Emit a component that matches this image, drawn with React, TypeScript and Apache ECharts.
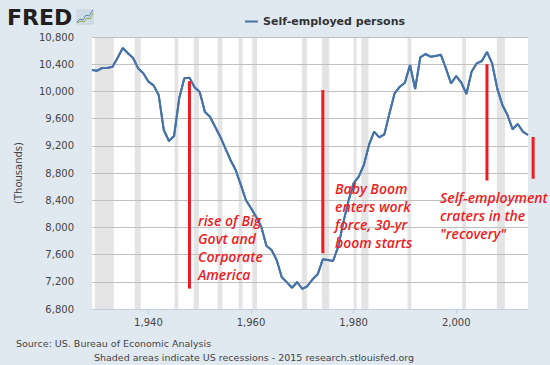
import React, { useEffect, useRef } from "react";
import * as echarts from "echarts";

const firstYear = 1929;
const selfEmployed = [
  10315, 10305, 10344, 10344, 10363, 10496, 10638, 10560, 10491, 10339,
  10266, 10143, 10089, 9947, 9432, 9270, 9344, 9898, 10193, 10202,
  10060, 9991, 9702, 9628, 9481, 9334, 9163, 8991, 8844, 8630,
  8403, 8281, 8158, 8010, 7731, 7668, 7521, 7266, 7192, 7113,
  7197, 7094, 7138, 7237, 7310, 7531, 7520, 7506, 7716, 8070,
  8390, 8648, 8746, 8918, 9212, 9408, 9325, 9369, 9678, 9972,
  10069, 10128, 10388, 10035, 10501, 10550, 10510, 10520, 10540, 10339,
  10119, 10226, 10128, 9962, 10290, 10413, 10447, 10580, 10413, 10045,
  9800, 9653, 9443, 9521, 9408, 9359,
];
const recessions: [string, string][] = [
  ["1929-08", "1933-03"], ["1937-05", "1938-06"], ["1945-02", "1945-10"],
  ["1948-11", "1949-10"], ["1953-07", "1954-05"], ["1957-08", "1958-04"],
  ["1960-04", "1961-02"], ["1969-12", "1970-11"], ["1973-11", "1975-03"],
  ["1980-01", "1980-07"], ["1981-07", "1982-11"], ["1990-07", "1991-03"],
  ["2001-03", "2001-11"], ["2007-12", "2009-06"],
];
// [year, top value, bottom value]
const redBars = [
  [1948, 10150, 7100],
  [1974, 10020, 7620],
  [2006, 10400, 8690],
  [2015, 9330, 8715],
];
const xTickYears = [1940, 1960, 1980, 2000];
const seriesName = "Self-employed persons";
const notes = [
  "rise of Big\nGovt and\nCorporate\nAmerica",
  "Baby Boom\nenters work\nforce, 30-yr\nboom starts",
  "Self-employment\ncraters in the\n\"recovery\"",
];

const toYear = (s: string, end: boolean) => {
  const [y, m] = s.split("-").map(Number);
  return y + (m - (end ? 0 : 1)) / 12;
};

const RED = "#ed1c24";
const FONT = "DejaVu Sans";

export default function App() {
  const ref = useRef<HTMLDivElement>(null);
  useEffect(() => {
    document.body.style.margin = "0";
    if (!ref.current) return;
    const chart = echarts.init(ref.current, null, { renderer: "svg" });
    const noteStyle = {
      fill: RED,
      fontFamily: "Open Sans",
      fontStyle: "italic",
      fontWeight: 600,
      fontSize: 14,
      lineHeight: 18,
    };
    chart.setOption({
      animation: false,
      backgroundColor: "#e1e9f0",
      grid: { left: 92, right: 22, top: 37, bottom: 56, show: true, backgroundColor: "#ffffff", borderWidth: 0 },
      legend: {
        data: [seriesName],
        left: 240,
        top: 11,
        icon: "rect",
        itemWidth: 13,
        itemHeight: 2,
        itemGap: 5,
        textStyle: { fontFamily: FONT, fontWeight: "bold", fontSize: 11, color: "#333" },
      },
      xAxis: {
        type: "value",
        z: 4,
        min: firstYear,
        max: firstYear + selfEmployed.length - 1,
        splitLine: { show: false },
        axisLine: { show: true, lineStyle: { color: "#c0d0e0" } },
        axisTick: { show: true, length: 5, lineStyle: { color: "#c0d0e0" }, customValues: xTickYears },
        axisLabel: { customValues: xTickYears, color: "#444", fontFamily: FONT, fontSize: 10, margin: 8 },
      },
      yAxis: {
        type: "value",
        z: 4,
        min: 6800,
        max: 10800,
        interval: 400,
        axisLine: { show: false },
        axisTick: { show: false },
        splitLine: { lineStyle: { color: "#c0c0c0", width: 1 } },
        axisLabel: {
          color: "#444",
          fontFamily: FONT,
          fontSize: 10,
          margin: 18,
          formatter: (v: number) => v.toLocaleString("en-US"),
        },
      },
      series: [
        {
          name: seriesName,
          type: "line",
          data: selfEmployed.map((v, i) => [firstYear + i, v]),
          showSymbol: false,
          symbol: "none",
          lineStyle: { color: "#4572a7", width: 2 },
          itemStyle: { color: "#4572a7" },
          z: 2,
          zlevel: 0,
          markArea: {
            silent: true,
            itemStyle: { color: "#e4e4e4" },
            data: recessions.map(([s, e]) => [{ xAxis: toYear(s, false) }, { xAxis: toYear(e, true) }]),
          },
        },
        {
          type: "line",
          data: selfEmployed.map((v, i) => [firstYear + i, v]),
          showSymbol: false,
          symbol: "none",
          lineStyle: { color: "#4572a7", width: 2 },
          z: 6,
          silent: true,
        },
        {
          type: "custom",
          clip: false,
          silent: true,
          z: 7,
          data: redBars,
          encode: { x: 0, y: [1, 2] },
          renderItem: (_p: any, api: any) => {
            const a = api.coord([api.value(0), api.value(1)]);
            const b = api.coord([api.value(0), api.value(2)]);
            return {
              type: "rect",
              shape: { x: a[0] - 1.5, y: a[1], width: 3, height: b[1] - a[1] },
              style: { fill: RED },
            };
          },
        },
      ],
      graphic: [
        { type: "text", z: 10, left: 7, top: 6, style: { text: "FRED", fontFamily: FONT, fontWeight: 900, fontSize: 22, fill: "#231f20" } },
        { type: "rect", z: 10, shape: { x: 76, y: 9, width: 18, height: 16, r: 2 }, style: { fill: "#cfdae5" } },
        { type: "polyline", z: 11, shape: { points: [[77, 22], [80, 19], [83, 20], [86, 15], [89, 16], [93, 10]] }, style: { stroke: "#5b86b8", lineWidth: 1, fill: "none" } },
        { type: "polyline", z: 11, shape: { points: [[77, 23], [81, 21], [84, 22], [87, 18], [90, 19], [93, 13]] }, style: { stroke: "#8ab04a", lineWidth: 1, fill: "none" } },
        { type: "text", z: 10, x: 18, y: 173, rotation: Math.PI / 2, style: { text: "(Thousands)", fontFamily: FONT, fontSize: 10, fill: "#444", align: "center", verticalAlign: "middle" } },
        { type: "text", z: 10, x: 198, y: 211, style: { ...noteStyle, text: notes[0] } },
        { type: "text", z: 10, x: 335, y: 179, style: { ...noteStyle, text: notes[1] } },
        { type: "text", z: 10, x: 440, y: 188, style: { ...noteStyle, text: notes[2] } },
        { type: "text", z: 10, x: 16, y: 343, style: { text: "Source: US. Bureau of Economic Analysis", fontFamily: FONT, fontSize: 9.5, fill: "#444", verticalAlign: "middle" } },
        { type: "text", z: 10, x: 254, y: 357, style: { text: "Shaded areas indicate US recessions - 2015 research.stlouisfed.org", fontFamily: FONT, fontSize: 9.5, fill: "#444", align: "center", verticalAlign: "middle" } },
      ],
    });
    return () => chart.dispose();
  }, []);
  return <div ref={ref} style={{ width: 550, height: 365 }} />;
}
